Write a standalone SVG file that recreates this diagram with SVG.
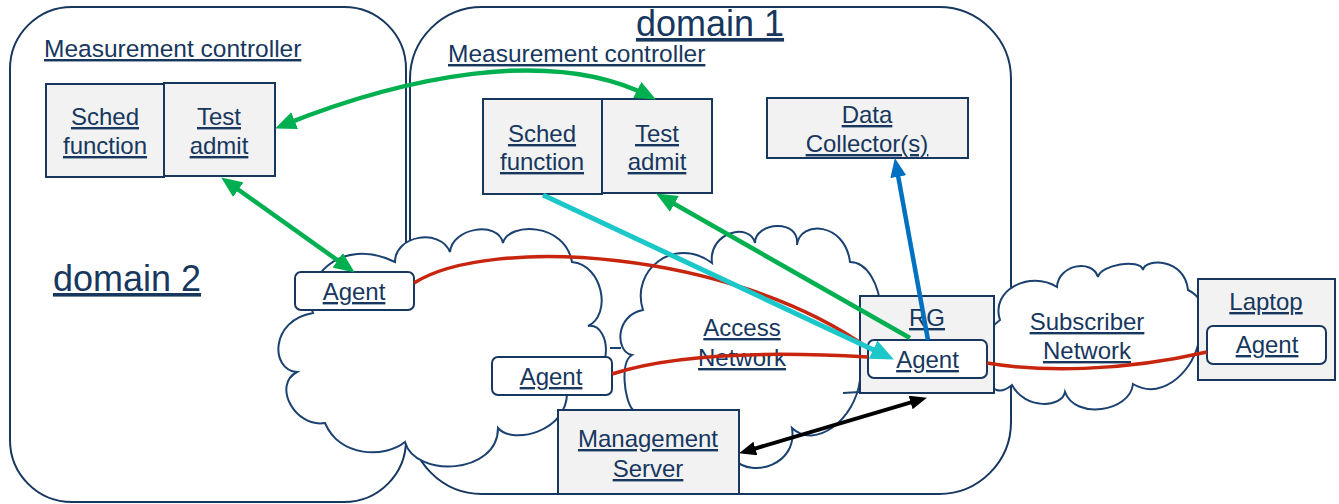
<svg xmlns="http://www.w3.org/2000/svg" width="1339" height="504" viewBox="0 0 1339 504">
<defs>
<style>
text { font-family: "Liberation Sans", Arial, sans-serif; font-size: 24px; fill: #17375e; text-decoration: underline; text-anchor: middle; }
.l { text-anchor: start; }
.big { font-size: 36px; }
.dom { fill: none; stroke: #17375e; stroke-width: 2; }
.cloud { fill: #ffffff; stroke: #1b4170; stroke-width: 2; }
.tick { fill: none; stroke: #1b4170; stroke-width: 2; }
.box { fill: #f2f2f2; stroke: #17375e; stroke-width: 2; }
.agent { fill: #ffffff; stroke: #17375e; stroke-width: 2; }
.green { fill: none; stroke: #00b050; stroke-width: 4.5; }
.cyan { fill: none; stroke: #1cc7c9; stroke-width: 5; }
.blue { fill: none; stroke: #0070c0; stroke-width: 4.5; }
.red { fill: none; stroke: #c8250e; stroke-width: 3.5; }
.black { fill: none; stroke: #000000; stroke-width: 4; }
</style>
<marker id="aG" markerUnits="userSpaceOnUse" markerWidth="22" markerHeight="18" viewBox="0 0 22 18" refX="14" refY="9" orient="auto-start-reverse"><path d="M0,0 L21,9 L0,18 z" fill="#00b050"/></marker>
<marker id="aC" markerUnits="userSpaceOnUse" markerWidth="24" markerHeight="20" viewBox="0 0 24 20" refX="16" refY="10" orient="auto-start-reverse"><path d="M0,0 L23,10 L0,20 z" fill="#1cc7c9"/></marker>
<marker id="aB" markerUnits="userSpaceOnUse" markerWidth="20" markerHeight="16" viewBox="0 0 20 16" refX="12" refY="8" orient="auto-start-reverse"><path d="M0,0 L19,8 L0,16 z" fill="#0070c0"/></marker>
<marker id="aK" markerUnits="userSpaceOnUse" markerWidth="18" markerHeight="14" viewBox="0 0 18 14" refX="10" refY="7" orient="auto-start-reverse"><path d="M0,0 L17,7 L0,14 z" fill="#000000"/></marker>
</defs>

<g id="domain2">
<rect class="dom" x="10" y="7" width="396" height="495" rx="62" ry="62"/>
<text class="big" x="127" y="291">domain 2</text>
</g>
<g id="domain1">
<rect class="dom" x="410" y="7" width="601" height="487" rx="72" ry="72"/>
<text class="big" x="710" y="36">domain 1</text>
</g>

<g id="cloud-core">
<path class="cloud" d="M313,313 C300,280 340,235 395,262 C395,235 440,228 450,252 C452,228 498,220 503,243 C508,222 565,222 572,262 C603,265 612,315 588,326 C612,322 618,385 567,392 C568,432 512,445 498,428 C498,475 415,478 405,442 C385,458 340,458 325,423 C295,428 272,385 297,372 C270,370 270,320 313,313 Z"/>
<path class="tick" d="M610,348 L621,348"/>
</g>
<g id="access-network">
<path class="cloud" d="M643,310 C630,270 675,235 712,263 C708,232 750,222 755,243 C755,222 800,218 797,245 C800,220 845,222 850,262 C885,262 895,350 860,380 C855,420 815,450 792,428 C798,465 752,478 735,460 C720,470 640,440 633,410 C624,400 620,362 632,355 C615,352 615,315 643,310 Z"/>
<path class="tick" d="M843,393 L860,392"/>
<text x="742" y="336">Access</text>
<text x="742" y="366">Network</text>
</g>
<g id="subscriber-network">
<path class="cloud" d="M1000,320 C990,290 1030,270 1057,287 C1058,265 1092,258 1098,277 C1100,265 1140,258 1143,270 C1145,258 1185,258 1188,290 C1210,300 1215,340 1198,345 C1190,375 1160,400 1133,384 C1130,412 1075,420 1065,392 C1062,408 1025,410 1012,385 C1000,395 990,390 990,380 C975,360 985,330 1000,320 Z"/>
<text x="1087" y="330">Subscriber</text>
<text x="1087" y="359">Network</text>
</g>

<g id="mc2">
<text class="l" x="44" y="57" style="font-size:24.5px">Measurement controller</text>
</g>
<g id="sched2">
<rect class="box" x="46" y="84" width="118" height="93"/>
<text x="105" y="125">Sched</text>
<text x="105" y="154">function</text>
</g>
<g id="test2">
<rect class="box" x="164" y="83" width="111" height="93"/>
<text x="219" y="125">Test</text>
<text x="219" y="154">admit</text>
</g>

<g id="mc1">
<text class="l" x="448" y="62" style="font-size:24.5px">Measurement controller</text>
</g>
<g id="sched1">
<rect class="box" x="483" y="99" width="119" height="95"/>
<text x="542" y="142">Sched</text>
<text x="542" y="170">function</text>
</g>
<g id="test1">
<rect class="box" x="602" y="99" width="110" height="94"/>
<text x="657" y="142">Test</text>
<text x="657" y="170">admit</text>
</g>
<g id="collector">
<rect class="box" x="767" y="98" width="201" height="60"/>
<text x="867" y="123">Data</text>
<text x="867" y="152">Collector(s)</text>
</g>

<g id="agent1">
<rect class="agent" x="295" y="272" width="119" height="38" rx="6" ry="6"/>
<text x="354" y="300">Agent</text>
</g>
<g id="agent2">
<rect class="agent" x="492" y="357" width="120" height="38" rx="6" ry="6"/>
<text x="551" y="385">Agent</text>
</g>
<g id="mgmt">
<rect class="box" x="558" y="410" width="181" height="84"/>
<text x="648" y="447">Management</text>
<text x="648" y="477">Server</text>
</g>
<g id="rg">
<rect class="box" x="860" y="296" width="134" height="97"/>
<text x="927" y="326">RG</text>
</g>
<g id="rg-agent">
<rect class="agent" x="868" y="340" width="119" height="38" rx="6" ry="6"/>
<text x="927.5" y="368">Agent</text>
</g>
<g id="laptop">
<rect class="box" x="1198" y="279" width="137" height="101"/>
<text x="1266" y="310">Laptop</text>
</g>
<g id="laptop-agent">
<rect class="agent" x="1207" y="326" width="119" height="38" rx="6" ry="6"/>
<text x="1267" y="353">Agent</text>
</g>

<g id="connectors">
<path class="red" d="M414,283 C490,235 730,250 868,348"/>
<path class="red" d="M612,374 C680,352 780,352 868,357"/>
<path class="red" d="M987,363 C1040,372 1120,372 1207,352"/>
<path class="green" d="M281.6,125.8 C400,78 550,45 649.7,96.3" marker-start="url(#aG)" marker-end="url(#aG)"/>
<path class="green" d="M226.9,181.5 L349.1,268.5" marker-start="url(#aG)" marker-end="url(#aG)"/>
<path class="cyan" d="M543,195 L887.6,356.5" marker-end="url(#aC)"/>
<path class="green" d="M910,338 L662.2,197" marker-end="url(#aG)"/>
<path class="blue" d="M928,340 L896.1,164.9" marker-end="url(#aB)"/>
<path class="black" d="M745.8,451.3 L920.2,399.7" marker-start="url(#aK)" marker-end="url(#aK)"/>
</g>
</svg>
